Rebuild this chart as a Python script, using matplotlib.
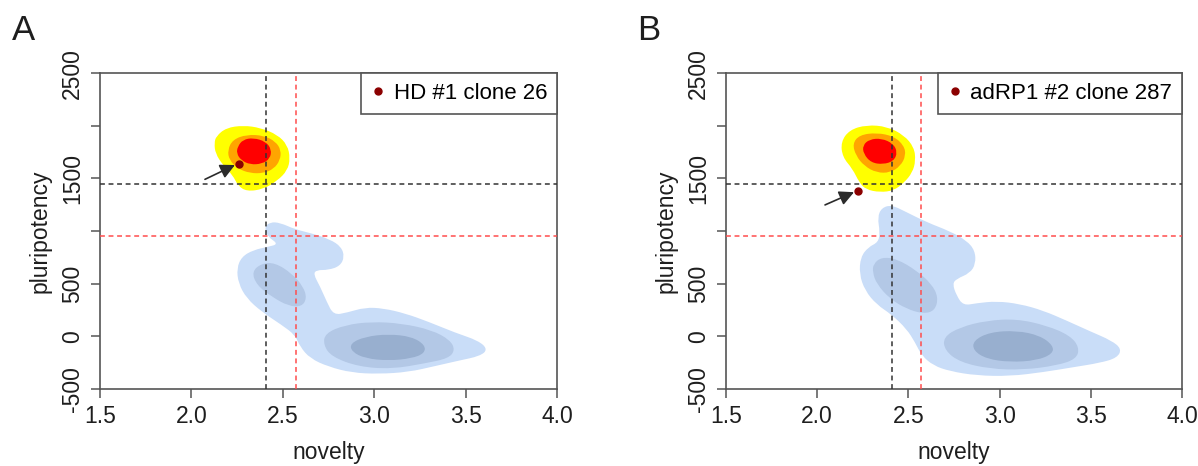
import numpy as np
import matplotlib
matplotlib.use("Agg")
import matplotlib.pyplot as plt
from matplotlib.path import Path
from matplotlib.patches import PathPatch
from matplotlib.lines import Line2D

plt.rcParams['font.family'] = ['Liberation Sans', 'DejaVu Sans']

# density contour outlines (novelty, pluripotency)
a_blue_outer = [(2.476, 877), (2.417, 946), (2.399, 1035), (2.430, 1085), (2.485, 1079),
                (2.567, 1016), (2.658, 978), (2.758, 921), (2.819, 851), (2.837, 756),
                (2.813, 668), (2.749, 630), (2.685, 630), (2.667, 592), (2.704, 472),
                (2.740, 329), (2.777, 203), (2.850, 225), (2.950, 275), (3.050, 266),
                (3.169, 218), (3.296, 139), (3.442, 35), (3.570, -41), (3.621, -123),
                (3.579, -187), (3.461, -231), (3.333, -282), (3.187, -339), (3.023, -357),
                (2.877, -345), (2.749, -288), (2.649, -209), (2.594, -98), (2.567, 13),
                (2.494, 108), (2.384, 234), (2.302, 361), (2.257, 503), (2.248, 646),
                (2.275, 756), (2.339, 820), (2.421, 851)]
a_blue_mid1 = [(2.330, 614), (2.384, 693), (2.457, 699), (2.549, 598), (2.612, 472),
               (2.631, 361), (2.603, 282), (2.530, 288), (2.439, 377), (2.357, 487)]
a_blue_mid2 = [(2.731, 29), (2.840, 108), (2.986, 139), (3.150, 123), (3.315, 60),
               (3.415, -35), (3.442, -130), (3.406, -209), (3.278, -256), (3.096, -310),
               (2.913, -288), (2.767, -193), (2.722, -82)]
a_blue_dark = [(2.868, -67), (2.950, -3), (3.078, 22), (3.205, -3), (3.278, -82),
               (3.275, -161), (3.205, -209), (3.078, -231), (2.950, -209), (2.877, -146)]
a_yellow = [(2.125, 1835), (2.135, 1900), (2.190, 1980), (2.284, 2003), (2.378, 1980),
            (2.470, 1915), (2.525, 1817), (2.540, 1690), (2.525, 1575), (2.470, 1478),
            (2.394, 1398), (2.302, 1376), (2.254, 1432), (2.226, 1530), (2.172, 1627),
            (2.131, 1737)]
a_orange = [(2.198, 1769), (2.226, 1868), (2.302, 1916), (2.396, 1907), (2.460, 1850),
            (2.490, 1769), (2.485, 1672), (2.450, 1590), (2.394, 1549), (2.321, 1549),
            (2.254, 1592), (2.207, 1674)]
a_red = [(2.253, 1803), (2.282, 1868), (2.339, 1885), (2.406, 1850), (2.438, 1775),
         (2.430, 1688), (2.386, 1638), (2.321, 1631), (2.272, 1672), (2.247, 1737)]

b_blue_outer = [(2.344, 989), (2.331, 1131), (2.353, 1220), (2.408, 1248), (2.490, 1179),
                (2.600, 1084), (2.728, 998), (2.819, 910), (2.865, 815), (2.869, 688),
                (2.837, 600), (2.764, 546), (2.742, 498), (2.764, 388), (2.801, 293),
                (2.874, 315), (2.984, 334), (3.111, 308), (3.239, 245), (3.367, 150),
                (3.495, 49), (3.614, -40), (3.669, -119), (3.645, -204), (3.550, -252),
                (3.404, -293), (3.239, -340), (3.057, -378), (2.874, -372), (2.728, -331),
                (2.637, -277), (2.573, -182), (2.536, -55), (2.490, 71), (2.408, 207),
                (2.326, 302), (2.262, 435), (2.231, 593), (2.238, 752), (2.280, 847),
                (2.335, 894)]
b_blue_mid1 = [(2.308, 688), (2.353, 752), (2.436, 736), (2.545, 625), (2.627, 498),
               (2.664, 372), (2.646, 245), (2.582, 214), (2.490, 261), (2.399, 356),
               (2.326, 498), (2.304, 609)]
b_blue_mid2 = [(2.691, -8), (2.783, 87), (2.929, 150), (3.093, 166), (3.258, 103),
               (3.386, 8), (3.437, -103), (3.422, -214), (3.313, -277), (3.130, -318),
               (2.947, -309), (2.783, -245), (2.700, -135)]
b_blue_dark = [(2.856, -40), (2.947, 40), (3.093, 55), (3.221, 8), (3.294, -87),
               (3.291, -166), (3.203, -229), (3.057, -245), (2.929, -214), (2.856, -135)]
b_yellow = [(2.130, 1846), (2.177, 1960), (2.271, 2008), (2.384, 1992), (2.476, 1910),
            (2.531, 1796), (2.540, 1669), (2.522, 1555), (2.476, 1458), (2.419, 1384),
            (2.344, 1368), (2.268, 1394), (2.231, 1460), (2.194, 1590), (2.139, 1703)]
b_orange = [(2.194, 1830), (2.232, 1912), (2.326, 1934), (2.420, 1900), (2.476, 1812),
            (2.486, 1717), (2.457, 1618), (2.400, 1554), (2.326, 1554), (2.258, 1618),
            (2.212, 1717)]
b_red = [(2.250, 1814), (2.287, 1871), (2.353, 1880), (2.417, 1830), (2.440, 1748),
         (2.420, 1665), (2.362, 1633), (2.296, 1649), (2.254, 1733)]

# highlighted clones and arrow tails
clone_labels = ['HD #1 clone 26', 'adRP1 #2 clone 287']
clone_points = [(2.258, 1636), (2.222, 1384)]
arrow_tails = [(2.074, 1491), (2.043, 1248)]
arrow_heads = [(2.238, 1627), (2.202, 1369)]

# thresholds
black_vline, red_vline = 2.41, 2.57
black_hline, red_hline = 1450, 950

x_ticks = [1.5, 2.0, 2.5, 3.0, 3.5, 4.0]
y_ticks = [-500, 0, 500, 1000, 1500, 2000, 2500]
y_ticklabels = ['-500', '0', '500', '', '1500', '', '2500']

BLUE_LIGHT = '#c9ddf8'
BLUE_MID = '#b3c8e6'
BLUE_DARK = '#98afcf'


def smooth_path(pts):
    """Geschlossener, geglaetteter Pfad durch die Stuetzpunkte (quadratische Bezier)."""
    p = np.asarray(pts, dtype=float)
    mids = (p + np.roll(p, -1, axis=0)) / 2
    verts = [mids[-1]]
    codes = [Path.MOVETO]
    for i in range(len(p)):
        verts += [p[i], mids[i]]
        codes += [Path.CURVE3, Path.CURVE3]
    verts.append(mids[-1])
    codes.append(Path.CLOSEPOLY)
    return Path(verts, codes)


def fill_shape(ax, pts, color, z):
    ax.add_patch(PathPatch(smooth_path(pts), facecolor=color, edgecolor='none', zorder=z))


def draw_panel(ax, blues, warms, point, tail, head, label):
    for pts, col in zip(blues, [BLUE_LIGHT, BLUE_MID, BLUE_MID, BLUE_DARK]):
        fill_shape(ax, pts, col, 1)
    for pts, col in zip(warms, ['#ffff00', '#ffa500', '#ff0000']):
        fill_shape(ax, pts, col, 2)

    dash = (0, (3.2, 2.4))
    ax.axvline(black_vline, color='#333333', lw=1.1, ls=dash, zorder=3)
    ax.axhline(black_hline, color='#333333', lw=1.1, ls=dash, zorder=3)
    ax.axvline(red_vline, color='#ff4d4d', lw=1.1, ls=dash, zorder=3)
    ax.axhline(red_hline, color='#ff4d4d', lw=1.1, ls=dash, zorder=3)

    ax.plot(*point, 'o', color='#8b0000', markersize=5, zorder=5)
    ax.annotate('', xy=head, xytext=tail,
                arrowprops=dict(arrowstyle='-|>', color='#2b2b2b', lw=1.2,
                                mutation_scale=22, shrinkA=0, shrinkB=0), zorder=5)

    ax.set_xlim(1.5, 4.0)
    ax.set_ylim(-500, 2500)
    ax.set_xticks(x_ticks)
    ax.set_xticklabels([f'{t:.1f}' for t in x_ticks])
    ax.set_yticks(y_ticks)
    ax.set_yticklabels(y_ticklabels, rotation=90, va='center')
    ax.tick_params(direction='out', length=6.5, width=1.1, color='#555555',
                   labelsize=16.5, labelcolor='#1e1e1e')
    ax.tick_params(axis='x', pad=5)
    ax.tick_params(axis='y', pad=5)
    for s in ax.spines.values():
        s.set_color('#555555')
        s.set_linewidth(1.2)
    ax.set_xlabel('novelty', fontsize=16.5, color='#1e1e1e', labelpad=9.5)
    ax.set_ylabel('pluripotency', fontsize=16.5, color='#1e1e1e', labelpad=7)

    handle = Line2D([], [], marker='o', color='#8b0000', ls='none', markersize=5)
    leg = ax.legend([handle], [label], loc='upper right', borderaxespad=0,
                    fancybox=False, framealpha=1, edgecolor='#555555', fontsize=16,
                    handlelength=0.6, handletextpad=0.4, borderpad=0.45)
    leg.get_frame().set_linewidth(1.2)
    leg.set_zorder(6)


fig = plt.figure(figsize=(11.98, 4.66), dpi=100)
ax_a = fig.add_axes([0.0835, 0.1652, 0.3815, 0.678])
ax_b = fig.add_axes([0.606, 0.1652, 0.3806, 0.678])

draw_panel(ax_a, [a_blue_outer, a_blue_mid1, a_blue_mid2, a_blue_dark],
           [a_yellow, a_orange, a_red], clone_points[0], arrow_tails[0], arrow_heads[0],
           clone_labels[0])
draw_panel(ax_b, [b_blue_outer, b_blue_mid1, b_blue_mid2, b_blue_dark],
           [b_yellow, b_orange, b_red], clone_points[1], arrow_tails[1], arrow_heads[1],
           clone_labels[1])

fig.text(0.010, 0.914, 'A', fontsize=25, color='#1e1e1e', va='baseline')
fig.text(0.532, 0.914, 'B', fontsize=25, color='#1e1e1e', va='baseline')

fig.savefig('out.png', dpi=100)
